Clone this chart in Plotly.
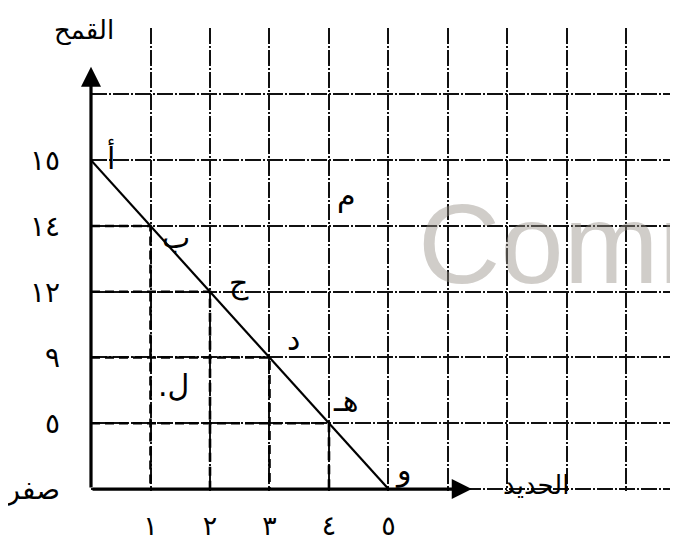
import plotly.graph_objects as go

# ---- data ----
iron = [0, 1, 2, 3, 4, 5]                      # الحديد
wheat = [15, 14, 12, 9, 5, 0]                  # القمح
point_names = ["أ", "ب", "ج", "د", "هـ", "و"]
ar_digits = str.maketrans("0123456789", "٠١٢٣٤٥٦٧٨٩")


def ar(v):
    return "صفر" if v == 0 else str(v).translate(ar_digits)


wheat_labels = [ar(v) for v in wheat]
y_categories = [ar(v) for v in sorted(wheat)] + ["\u200b", "\u200b\u200b"]
x_tick_vals = [1, 2, 3, 4, 5, 6, 7, 8, 9]
x_tick_text = [ar(v) if v <= 5 else "" for v in x_tick_vals]

inside_point = ("ل.\u200f", 1.38, 1.58)     # label, x, y-index
outside_point = ("م", 4.29, 4.47)
outside_dot = (4.30, 5.11)

FONT = "DejaVu Sans"
GRID = dict(showgrid=True, gridcolor="#111", gridwidth=1.5,
            griddash="16px,2px,2px,2px", zeroline=False, showline=False,
            ticks="", fixedrange=True, automargin=False)

fig = go.Figure()

# invisible trace to register top blank categories
fig.add_trace(go.Scatter(x=[0, 0], y=y_categories[-2:], mode="markers",
                         marker=dict(opacity=0), hoverinfo="skip", showlegend=False))

# projection dashed lines
for xi, yl in zip(iron[1:-1], wheat_labels[1:-1]):
    fig.add_trace(go.Scatter(x=[0, xi, xi], y=[yl, yl, "صفر"], mode="lines",
                             line=dict(color="black", width=2.6, dash="9px,5px"),
                             hoverinfo="skip", showlegend=False))

# production possibilities line
fig.add_trace(go.Scatter(x=iron, y=wheat_labels, mode="lines",
                         line=dict(color="black", width=2.2),
                         hoverinfo="skip", showlegend=False))

# stray dot for م
fig.add_trace(go.Scatter(x=[outside_dot[0]], y=[outside_dot[1]], mode="markers",
                         marker=dict(color="black", size=3),
                         hoverinfo="skip", showlegend=False))

annotations = []

# watermark
annotations.append(dict(text="Comm", x=5.47, y=3.74, xref="x", yref="y",
                        xanchor="left", yanchor="middle", showarrow=False,
                        font=dict(family="Liberation Sans", size=114,
                                  color="rgba(150,144,136,0.45)")))

# axis arrows
annotations.append(dict(x=0, y=6.42, ax=0, ay=0, xref="x", yref="y",
                        axref="x", ayref="y", text="", showarrow=True,
                        arrowhead=2, arrowsize=1.25, arrowwidth=3.2, arrowcolor="black"))
annotations.append(dict(x=6.40, y=0, ax=0, ay=0, xref="x", yref="y",
                        axref="x", ayref="y", text="", showarrow=True,
                        arrowhead=2, arrowsize=1.25, arrowwidth=3.2, arrowcolor="black"))

# point labels
shifts = [(20, 3), (25, -12), (29, 9), (24, 18), (17, 23), (15, 19)]
for name, xi, yl, (dx, dy) in zip(point_names, iron, wheat_labels, shifts):
    annotations.append(dict(text=name, x=xi, y=y_categories.index(yl),
                            xref="x", yref="y", xshift=dx, yshift=dy,
                            showarrow=False, font=dict(family=FONT, size=30, color="black")))

for lab, xi, yi in [inside_point, outside_point]:
    annotations.append(dict(text=lab, x=xi, y=yi, xref="x", yref="y",
                            showarrow=False, font=dict(family=FONT, size=30, color="black")))

# page has an 8px body margin: figure pixel = window pixel - 8
W, H = 670, 536
ML, MR, MT, MB = 83, 0, 20, 53

# axis titles (window pixel positions converted to paper)
annotations.append(dict(text="القمح", x=(84 - 8 - ML) / (W - ML - MR),
                        y=1 - (30 - 8 - MT) / (H - MT - MB),
                        xref="paper", yref="paper", xanchor="center", yanchor="middle",
                        showarrow=False, bgcolor="white",
                        font=dict(family=FONT, size=26, color="black")))
annotations.append(dict(text="الحديد", x=7.48, y=0, xref="x", yref="y", yshift=4,
                        xanchor="center", yanchor="middle",
                        showarrow=False, font=dict(family=FONT, size=26, color="black")))

fig.update_layout(
    width=W, height=H,
    margin=dict(l=ML, r=MR, t=MT, b=MB, autoexpand=False),
    paper_bgcolor="white", plot_bgcolor="white",
    showlegend=False,
    annotations=annotations,
    xaxis=dict(range=[0, 9.866], tickmode="array", tickvals=x_tick_vals,
               ticktext=x_tick_text, ticklabelstandoff=16,
               tickfont=dict(family=FONT, size=27, color="black"), **GRID),
    yaxis=dict(type="category", categoryorder="array", categoryarray=y_categories,
               range=[-0.03, 7.01], ticklabelstandoff=30,
               tickfont=dict(family=FONT, size=28, color="black"), **GRID),
)

fig.write_html("out.html")
